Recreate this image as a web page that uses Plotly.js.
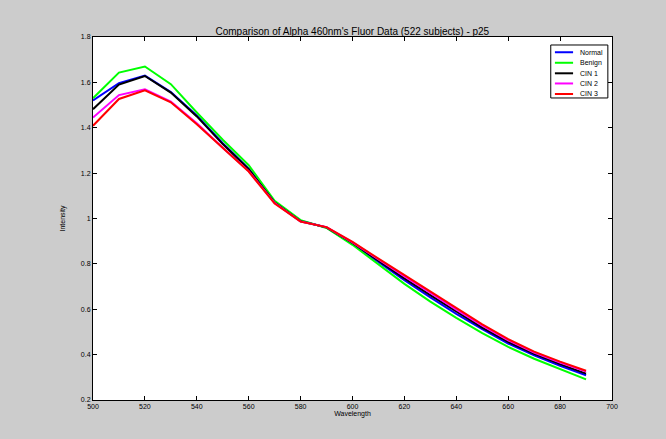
<!DOCTYPE html>
<html><head><meta charset="utf-8">
<script src="https://cdn.plot.ly/plotly-3.0.1.min.js"></script>
<style>html,body{margin:0;padding:0;background:#cccccc;}</style>
</head><body><div id="chart" style="width:666px;height:439px;"></div>
<script>
const wavelength = [500,510,520,530,540,550,560,570,580,590,600,610,620,630,640,650,660,670,680,690];
const normal = [1.520,1.597,1.630,1.557,1.454,1.332,1.220,1.070,0.990,0.960,0.889,0.808,0.728,0.652,0.580,0.512,0.449,0.397,0.351,0.309];
const benign = [1.530,1.643,1.670,1.592,1.467,1.347,1.235,1.078,0.993,0.958,0.884,0.796,0.712,0.634,0.562,0.495,0.434,0.382,0.336,0.291];
const cin1   = [1.482,1.590,1.628,1.555,1.450,1.328,1.217,1.070,0.988,0.961,0.892,0.813,0.736,0.662,0.589,0.519,0.456,0.403,0.358,0.316];
const cin2   = [1.445,1.544,1.570,1.515,1.420,1.312,1.209,1.068,0.987,0.962,0.895,0.819,0.745,0.672,0.598,0.528,0.463,0.409,0.365,0.325];
const cin3   = [1.409,1.527,1.565,1.512,1.415,1.310,1.207,1.066,0.986,0.962,0.897,0.823,0.750,0.678,0.604,0.533,0.468,0.413,0.369,0.329];
const seriesNames = ['Normal','Benign','CIN 1','CIN 2','CIN 3'];
const seriesColors = ['#0000ff','#00ff00','#000000','#ff00ff','#ff0000'];
const seriesData = [normal, benign, cin1, cin2, cin3];
const xTicks = [500,520,540,560,580,600,620,640,660,680,700];
const yTicks = [0.2,0.4,0.6,0.8,1,1.2,1.4,1.6,1.8];

const FONT = 'Liberation Sans, Arial, sans-serif';

const traces = seriesData.map((d,i)=>({
  x: wavelength, y: d, type:'scatter', mode:'lines', name: seriesNames[i],
  line:{color: seriesColors[i], width:2}, showlegend:false
}));

// custom compact legend (paper coordinates)
const legBox = {x0:0.882, x1:0.992, y0:0.832, y1:0.978};
const legRows = [0.958, 0.929, 0.900, 0.872, 0.843];
const shapes = [{type:'rect', xref:'paper', yref:'paper', x0:legBox.x0, x1:legBox.x1, y0:legBox.y0, y1:legBox.y1,
  fillcolor:'#ffffff', line:{color:'#000', width:1}, layer:'above'}];
const annotations = [];
seriesNames.forEach((n,i)=>{
  shapes.push({type:'line', xref:'paper', yref:'paper', x0:0.890, x1:0.925, y0:legRows[i], y1:legRows[i],
    line:{color:seriesColors[i], width:2}, layer:'above'});
  annotations.push({xref:'paper', yref:'paper', x:0.934, y:legRows[i], xanchor:'left', yanchor:'middle',
    text:n, showarrow:false, font:{family:FONT, size:7, color:'#000'}});
});

const axisCommon = {
  showgrid:false, zeroline:false, showline:true, linecolor:'#000', linewidth:1,
  mirror:'allticks', ticks:'inside', ticklen:4, tickcolor:'#000',
  tickfont:{family:FONT, size:7, color:'#000'}
};

const layout = {
  width:666, height:439,
  paper_bgcolor:'#cccccc', plot_bgcolor:'#ffffff',
  margin:{l:93, r:54, t:37, b:39},
  title:{text:"Comparison of Alpha 460nm's Fluor Data (522 subjects) - p25", font:{family:FONT, size:10, color:'#000'}, x:0.529, xanchor:'center', y:0.929, yanchor:'middle'},
  xaxis: Object.assign({}, axisCommon, {range:[500,700], tickvals:xTicks, ticktext:xTicks.map(String),
    title:{text:'Wavelength', font:{family:FONT, size:7, color:'#000'}, standoff:1}}),
  yaxis: Object.assign({}, axisCommon, {range:[0.2,1.8], tickvals:yTicks, ticktext:yTicks.map(String),
    title:{text:'Intensity', font:{family:FONT, size:7, color:'#000'}, standoff:14}}),
  shapes: shapes,
  annotations: annotations,
  showlegend:false
};

Plotly.newPlot('chart', traces, layout, {displayModeBar:false, staticPlot:true});
</script></body></html>
